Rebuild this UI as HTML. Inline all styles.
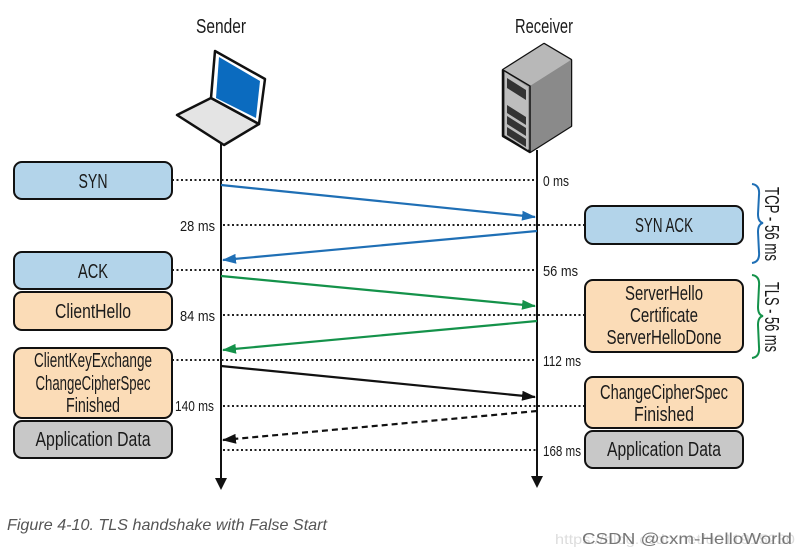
<!DOCTYPE html>
<html><head><meta charset="utf-8"><style>
html,body{margin:0;padding:0;background:#fff;}
svg{display:block;font-family:"Liberation Sans",sans-serif;}
.l{font-size:20px;fill:#1a1a1a;text-anchor:middle;}
.m{font-size:15px;fill:#1a1a1a;}
.d{stroke:#222;stroke-width:2;stroke-dasharray:2,2.5;}
</style></head><body>
<svg width="800" height="555" viewBox="0 0 800 555" xmlns="http://www.w3.org/2000/svg">
<defs>
<marker id="ab" markerWidth="14" markerHeight="10" refX="13" refY="5" orient="auto" markerUnits="userSpaceOnUse"><path d="M0,0 L14,5 L0,10z" fill="#1f6fb5"/></marker>
<marker id="ag" markerWidth="14" markerHeight="10" refX="13" refY="5" orient="auto" markerUnits="userSpaceOnUse"><path d="M0,0 L14,5 L0,10z" fill="#14924a"/></marker>
<marker id="ak" markerWidth="14" markerHeight="10" refX="13" refY="5" orient="auto" markerUnits="userSpaceOnUse"><path d="M0,0 L14,5 L0,10z" fill="#111"/></marker>
</defs>
<text x="221" y="33" class="l" textLength="50" lengthAdjust="spacingAndGlyphs">Sender</text>
<text x="544" y="33" class="l" textLength="58" lengthAdjust="spacingAndGlyphs">Receiver</text>
<!-- laptop -->
<path d="M177,115 L211,98 L259,124 L224,145 Z" fill="#e4e4e4" stroke="#111" stroke-width="2.5" stroke-linejoin="round"/>
<path d="M211,98 L215,51 L265,79 L259,124 Z" fill="#fff" stroke="#111" stroke-width="2.5" stroke-linejoin="round"/>
<path d="M216,98 L219,57 L260,81 L256,118 Z" fill="#0b6bbf"/>
<!-- server -->
<path d="M503,70 L544,44 L571,60 L571,126 L530,152 L503,136 Z" fill="#999" stroke="#111" stroke-width="2.5" stroke-linejoin="round"/>
<path d="M503,70 L544,44 L571,60 L530,86 Z" fill="#b8b8b8"/>
<path d="M530,86 L571,60 L571,126 L530,152 Z" fill="#8a8a8a"/>
<path d="M505,72 L528,87 L528,150 L505,135 Z" fill="#bdbdbd"/>
<path d="M507,78 L526,90 L526,100 L507,88 Z" fill="#333"/>
<path d="M507,105 L526,117 L526,125 L507,113 Z" fill="#333"/>
<path d="M507,116 L526,128 L526,136 L507,124 Z" fill="#333"/>
<path d="M507,127 L526,139 L526,147 L507,135 Z" fill="#333"/>
<path d="M503,70 L530,86 L530,152" fill="none" stroke="#111" stroke-width="1.5"/>
<!-- lifelines -->
<line x1="221" y1="144" x2="221" y2="480" stroke="#111" stroke-width="2"/>
<path d="M215,478 L227,478 L221,490z" fill="#111"/>
<line x1="537" y1="150" x2="537" y2="478" stroke="#111" stroke-width="2"/>
<path d="M531,476 L543,476 L537,488z" fill="#111"/>
<!-- dotted -->
<line x1="172" y1="180" x2="537" y2="180" class="d"/>
<line x1="223" y1="225" x2="585" y2="225" class="d"/>
<line x1="172" y1="270" x2="537" y2="270" class="d"/>
<line x1="223" y1="315" x2="585" y2="315" class="d"/>
<line x1="172" y1="360" x2="537" y2="360" class="d"/>
<line x1="223" y1="406" x2="585" y2="406" class="d"/>
<line x1="223" y1="450" x2="537" y2="450" class="d"/>
<text x="543" y="186" class="m" textLength="26" lengthAdjust="spacingAndGlyphs">0 ms</text>
<text x="180" y="231" class="m" textLength="35" lengthAdjust="spacingAndGlyphs">28 ms</text>
<text x="543" y="276" class="m" textLength="35" lengthAdjust="spacingAndGlyphs">56 ms</text>
<text x="180" y="321" class="m" textLength="35" lengthAdjust="spacingAndGlyphs">84 ms</text>
<text x="543" y="366" class="m" textLength="38" lengthAdjust="spacingAndGlyphs">112 ms</text>
<text x="175" y="411" class="m" textLength="39" lengthAdjust="spacingAndGlyphs">140 ms</text>
<text x="543" y="456" class="m" textLength="38" lengthAdjust="spacingAndGlyphs">168 ms</text>
<!-- arrows -->
<line x1="221" y1="185" x2="535" y2="217" stroke="#1f6fb5" stroke-width="2.2" marker-end="url(#ab)"/>
<line x1="537" y1="231" x2="223" y2="260" stroke="#1f6fb5" stroke-width="2.2" marker-end="url(#ab)"/>
<line x1="221" y1="276" x2="535" y2="306" stroke="#14924a" stroke-width="2.2" marker-end="url(#ag)"/>
<line x1="537" y1="321" x2="223" y2="350" stroke="#14924a" stroke-width="2.2" marker-end="url(#ag)"/>
<line x1="221" y1="366" x2="535" y2="397" stroke="#111" stroke-width="2.2" marker-end="url(#ak)"/>
<line x1="537" y1="411" x2="223" y2="440" stroke="#111" stroke-width="2.2" stroke-dasharray="6,4" marker-end="url(#ak)"/>
<!-- boxes -->
<g stroke="#111" stroke-width="2">
<rect x="14" y="162" width="158" height="37" rx="8" fill="#b3d4ea"/>
<rect x="14" y="252" width="158" height="37" rx="8" fill="#b3d4ea"/>
<rect x="14" y="292" width="158" height="38" rx="8" fill="#fbdcb7"/>
<rect x="14" y="348" width="158" height="70" rx="8" fill="#fbdcb7"/>
<rect x="14" y="421" width="158" height="37" rx="8" fill="#c8c8c8"/>
<rect x="585" y="206" width="158" height="38" rx="8" fill="#b3d4ea"/>
<rect x="585" y="280" width="158" height="72" rx="8" fill="#fbdcb7"/>
<rect x="585" y="377" width="158" height="51" rx="8" fill="#fbdcb7"/>
<rect x="585" y="431" width="158" height="37" rx="8" fill="#c8c8c8"/>
</g>
<text x="93" y="188" class="l" textLength="29" lengthAdjust="spacingAndGlyphs">SYN</text>
<text x="93" y="278" class="l" textLength="30" lengthAdjust="spacingAndGlyphs">ACK</text>
<text x="93" y="318" class="l" textLength="76" lengthAdjust="spacingAndGlyphs">ClientHello</text>
<text x="93" y="367" class="l" textLength="118" lengthAdjust="spacingAndGlyphs">ClientKeyExchange</text>
<text x="93" y="390" class="l" textLength="115" lengthAdjust="spacingAndGlyphs">ChangeCipherSpec</text>
<text x="93" y="412" class="l" textLength="54" lengthAdjust="spacingAndGlyphs">Finished</text>
<text x="93" y="446" class="l" textLength="115" lengthAdjust="spacingAndGlyphs">Application Data</text>
<text x="664" y="232" class="l" textLength="58" lengthAdjust="spacingAndGlyphs">SYN ACK</text>
<text x="664" y="300" class="l" textLength="78" lengthAdjust="spacingAndGlyphs">ServerHello</text>
<text x="664" y="322" class="l" textLength="68" lengthAdjust="spacingAndGlyphs">Certificate</text>
<text x="664" y="344" class="l" textLength="115" lengthAdjust="spacingAndGlyphs">ServerHelloDone</text>
<text x="664" y="399" class="l" textLength="128" lengthAdjust="spacingAndGlyphs">ChangeCipherSpec</text>
<text x="664" y="421" class="l" textLength="60" lengthAdjust="spacingAndGlyphs">Finished</text>
<text x="664" y="456" class="l" textLength="114" lengthAdjust="spacingAndGlyphs">Application Data</text>
<!-- braces -->
<path d="M752,184 Q760,185 759,195 L758,214 Q758,222 763,223 Q758,224 758,232 L759,252 Q760,262 752,263" fill="none" stroke="#1f6fb5" stroke-width="2"/>
<path d="M752,275 Q760,276 759,286 L758,307 Q758,315 763,316 Q758,317 758,325 L759,347 Q760,357 752,358" fill="none" stroke="#14924a" stroke-width="2"/>
<text transform="translate(765,224) rotate(90)" class="l" font-size="18" textLength="74" lengthAdjust="spacingAndGlyphs">TCP - 56 ms</text>
<text transform="translate(765,317) rotate(90)" class="l" font-size="18" textLength="70" lengthAdjust="spacingAndGlyphs">TLS - 56 ms</text>
<text x="7" y="530" font-size="16" font-style="italic" fill="#555" textLength="320" lengthAdjust="spacingAndGlyphs">Figure 4-10. TLS handshake with False Start</text>
<text x="555" y="544" font-size="14" fill="#ddd" textLength="240" lengthAdjust="spacingAndGlyphs">https://blog.csdn.net/u011915230</text>
<text x="582" y="544" font-size="16" fill="#777" textLength="210" lengthAdjust="spacingAndGlyphs">CSDN @cxm-HelloWorld</text>
</svg>
</body></html>
